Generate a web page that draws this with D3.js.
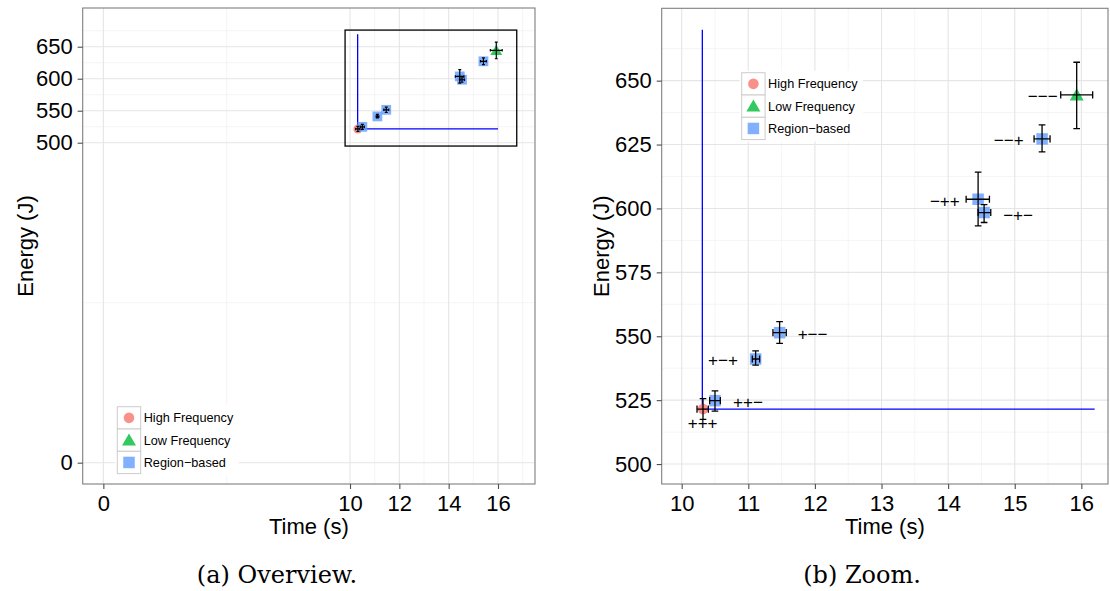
<!DOCTYPE html>
<html>
<head>
<meta charset="utf-8">
<script src="https://cdn.jsdelivr.net/npm/d3@7"></script>
<style>
  body { margin: 0; background: #fff; }
  svg { display: block; }
  .tick text { font-family: 'Liberation Sans', Arial, sans-serif; fill: #000; }
</style>
</head>
<body>
<script>
// configuration labels and measured means / error ranges
const configs = ['+++', '++−', '+−+', '+−−', '−++', '−+−', '−−+', '−−−'];
const method = ['High Frequency', 'Region−based', 'Region−based', 'Region−based',
  'Region−based', 'Region−based', 'Region−based', 'Low Frequency'];
const timeMean = [10.32, 10.50, 11.11, 11.47, 14.45, 14.54, 15.41, 15.93];
const timeLo = [10.23, 10.42, 11.06, 11.37, 14.27, 14.45, 15.29, 15.69];
const timeHi = [10.40, 10.58, 11.17, 11.57, 14.62, 14.64, 15.53, 16.17];
const energyMean = [521.5, 524.8, 541.1, 551.4, 603.6, 598.4, 627.2, 644.4];
const energyLo = [517.5, 520.7, 538.7, 547.2, 593.2, 594.5, 622.1, 631.2];
const energyHi = [525.6, 528.6, 544.3, 555.7, 614.2, 601.5, 632.7, 657.2];
// where the config labels sit (data units, zoom panel only)
const labelTime = [10.315, 10.995, 10.62, 11.965, 13.95, 15.05, 14.91, 15.42];
const labelEnergy = [516.0, 524.3, 540.7, 550.9, 602.9, 597.5, 626.8, 643.8];

const legendNames = ['High Frequency', 'Low Frequency', 'Region−based'];
const legendColors = ['#F8766D', '#00BA38', '#619CFF'];

// blue reference lines (time, energy)
const refLineOverview = [[10.31, 669.5], [10.31, 521.5], [16.0, 521.5]];
const refLineZoom = [[10.31, 669.9], [10.31, 521.5], [16.2, 521.5]];
// zoom window drawn on the overview
const zoomBox = { t0: 9.8, t1: 16.76, e0: 494.8, e1: 676 };

const xTicksOverview = [0, 10, 12, 14, 16];
const xMinorOverview = [5, 11, 13, 15, 17];
const yTicksOverview = [0, 500, 550, 600, 650];
const yMinorOverview = [250, 525, 575, 625, 675];
const xTicksZoom = [10, 11, 12, 13, 14, 15, 16];
const xMinorZoom = [10.5, 11.5, 12.5, 13.5, 14.5, 15.5];
const yTicksZoom = [500, 525, 550, 575, 600, 625, 650];
const yMinorZoom = [512.5, 537.5, 562.5, 587.5, 612.5, 637.5, 662.5];

const data = configs.map(function (c, i) {
  return {
    config: c, method: method[i],
    t: timeMean[i], tLo: timeLo[i], tHi: timeHi[i],
    e: energyMean[i], eLo: energyLo[i], eHi: energyHi[i],
    lt: labelTime[i], le: labelEnergy[i]
  };
});

let color = d3.scaleOrdinal().domain(legendNames).range(legendColors);

const font = "'Liberation Sans', Arial, sans-serif";

let svg = d3.select('body')
  .append('svg')
  .attr('width', 1110)
  .attr('height', 591);

function symbolPath(m, scale) {
  if (m === 'High Frequency') {
    return d3.symbol().type(d3.symbolCircle).size(Math.PI * Math.pow(5.3 * scale, 2))();
  } else if (m === 'Low Frequency') {
    let w = 14 * scale;
    return d3.symbol().type(d3.symbolTriangle).size(Math.sqrt(3) / 4 * w * w)();
  }
  let s = 11.5 * scale;
  return d3.symbol().type(d3.symbolSquare).size(s * s)();
}

function drawPanel(p) {
  let x = d3.scaleLinear().domain(p.xDomain).range([p.left, p.right]);
  let y = d3.scaleLinear().domain(p.yDomain).range([p.bottom, p.top]);
  let g = svg.append('g');

  // panel
  g.append('rect')
    .attr('x', p.left).attr('y', p.top)
    .attr('width', p.right - p.left).attr('height', p.bottom - p.top)
    .attr('fill', '#fff');

  // minor grid
  g.selectAll('.vminor').data(p.xMinor).enter().append('line')
    .attr('x1', function (d) { return x(d); }).attr('x2', function (d) { return x(d); })
    .attr('y1', p.top).attr('y2', p.bottom)
    .attr('stroke', '#f2f2f2').attr('stroke-width', 0.8);
  g.selectAll('.hminor').data(p.yMinor).enter().append('line')
    .attr('y1', function (d) { return y(d); }).attr('y2', function (d) { return y(d); })
    .attr('x1', p.left).attr('x2', p.right)
    .attr('stroke', '#f2f2f2').attr('stroke-width', 0.8);
  // major grid
  g.selectAll('.vmajor').data(p.xTicks).enter().append('line')
    .attr('x1', function (d) { return x(d); }).attr('x2', function (d) { return x(d); })
    .attr('y1', p.top).attr('y2', p.bottom)
    .attr('stroke', '#e5e5e5').attr('stroke-width', 1.1);
  g.selectAll('.hmajor').data(p.yTicks).enter().append('line')
    .attr('y1', function (d) { return y(d); }).attr('y2', function (d) { return y(d); })
    .attr('x1', p.left).attr('x2', p.right)
    .attr('stroke', '#e5e5e5').attr('stroke-width', 1.1);

  // reference lines
  g.append('path')
    .datum(p.refLine)
    .attr('d', d3.line().x(function (d) { return x(d[0]); }).y(function (d) { return y(d[1]); }))
    .attr('fill', 'none')
    .attr('stroke', '#0000ff')
    .attr('stroke-width', 1.3);

  if (p.box) {
    g.append('rect')
      .attr('x', x(p.box.t0)).attr('y', y(p.box.e1))
      .attr('width', x(p.box.t1) - x(p.box.t0))
      .attr('height', y(p.box.e0) - y(p.box.e1))
      .attr('fill', 'none').attr('stroke', '#000').attr('stroke-width', 1.3);
  }

  // points
  g.selectAll('.pt').data(data).enter().append('path')
    .attr('d', function (d) { return symbolPath(d.method, p.symScale); })
    .attr('transform', function (d) {
      let dy = d.method === 'Low Frequency' ? 1.5 * p.symScale : 0;
      return 'translate(' + x(d.t) + ',' + (y(d.e) + dy) + ')';
    })
    .attr('fill', function (d) { return color(d.method); })
    .attr('fill-opacity', 0.8);

  // error bars
  let eb = g.selectAll('.eb').data(data).enter().append('g');
  let capW = p.capT; // time units
  let capH = p.capE; // energy units
  eb.append('path')
    .attr('d', function (d) {
      let cx = x(d.t), cy = y(d.e);
      let hw = (x(d.t + capW) - x(d.t)) / 2;
      let hh = (y(d.e) - y(d.e + capH)) / 2;
      return 'M' + cx + ',' + y(d.eLo) + 'V' + y(d.eHi) +
        'M' + (cx - hw) + ',' + y(d.eLo) + 'H' + (cx + hw) +
        'M' + (cx - hw) + ',' + y(d.eHi) + 'H' + (cx + hw) +
        'M' + x(d.tLo) + ',' + cy + 'H' + x(d.tHi) +
        'M' + x(d.tLo) + ',' + (cy - hh) + 'V' + (cy + hh) +
        'M' + x(d.tHi) + ',' + (cy - hh) + 'V' + (cy + hh);
    })
    .attr('fill', 'none')
    .attr('stroke', '#000')
    .attr('stroke-width', p.ebWidth);

  if (p.labels) {
    g.selectAll('.lbl').data(data).enter().append('text')
      .attr('x', function (d) { return x(d.lt); })
      .attr('y', function (d) { return y(d.le); })
      .attr('dy', '0.35em')
      .attr('text-anchor', 'middle')
      .style('font-family', font)
      .style('font-size', '17px')
      .text(function (d) { return d.config; });
  }

  // border
  g.append('rect')
    .attr('x', p.left).attr('y', p.top)
    .attr('width', p.right - p.left).attr('height', p.bottom - p.top)
    .attr('fill', 'none').attr('stroke', '#7f7f7f').attr('stroke-width', 1.1);

  // axes
  let xAxis = d3.axisBottom(x).tickValues(p.xTicks).tickFormat(d3.format('d'))
    .tickSize(5).tickPadding(6);
  let yAxis = d3.axisLeft(y).tickValues(p.yTicks).tickFormat(d3.format('d'))
    .tickSize(5).tickPadding(5);
  let gx = g.append('g').attr('transform', 'translate(0,' + p.bottom + ')').call(xAxis);
  let gy = g.append('g').attr('transform', 'translate(' + p.left + ',0)').call(yAxis);
  [gx, gy].forEach(function (a) {
    a.select('.domain').remove();
    a.selectAll('.tick line').attr('stroke', '#4d4d4d').attr('stroke-width', 1.1);
    a.selectAll('.tick text').style('font-size', '22px');
  });

  g.append('text')
    .attr('x', (p.left + p.right) / 2)
    .attr('y', p.xTitleY)
    .attr('text-anchor', 'middle')
    .style('font-family', font).style('font-size', '22px')
    .text('Time (s)');
  g.append('text')
    .attr('transform', 'translate(' + p.yTitleX + ',' + (p.top + p.bottom) / 2 + ') rotate(-90)')
    .attr('text-anchor', 'middle')
    .attr('dy', '0.35em')
    .style('font-family', font).style('font-size', '22px')
    .text('Energy (J)');

  // legend
  let lg = g.append('g').attr('transform', 'translate(' + p.legendX + ',' + p.legendY + ')');
  let keyW = 23.4, keyH = 22.3;
  lg.append('rect')
    .attr('x', -2).attr('y', -2)
    .attr('width', keyW + 100).attr('height', keyH * 3 + 4)
    .attr('fill', '#fff');
  let item = lg.selectAll('.item').data(legendNames).enter().append('g')
    .attr('transform', function (d, i) { return 'translate(0,' + i * keyH + ')'; });
  item.append('rect')
    .attr('width', keyW).attr('height', keyH)
    .attr('fill', '#fff').attr('stroke', '#cccccc').attr('stroke-width', 1);
  item.append('path')
    .attr('d', function (d) { return symbolPath(d, 1.0); })
    .attr('transform', function (d) {
      let dy = d === 'Low Frequency' ? 1.4 : 0;
      return 'translate(' + keyW / 2 + ',' + (keyH / 2 + dy) + ')';
    })
    .attr('fill', function (d) { return color(d); })
    .attr('fill-opacity', 0.8);
  item.append('text')
    .attr('x', keyW + 3)
    .attr('y', keyH / 2)
    .attr('dy', '0.35em')
    .style('font-family', font).style('font-size', '12.7px')
    .text(function (d) { return d; });

  svg.append('text')
    .attr('x', p.captionX)
    .attr('y', 583)
    .attr('text-anchor', 'middle')
    .style('font-family', "'DejaVu Serif', serif")
    .style('font-size', '24px')
    .text(p.caption);
}

drawPanel({
  left: 82.7, right: 535, top: 8, bottom: 484,
  xDomain: [-0.837, 17.5], yDomain: [-33.3, 710.5],
  xTicks: xTicksOverview, xMinor: xMinorOverview,
  yTicks: yTicksOverview, yMinor: yMinorOverview,
  refLine: refLineOverview, box: zoomBox,
  symScale: 0.85, capT: 0.12, capE: 4, ebWidth: 1.2,
  labels: false,
  xTitleY: 534, yTitleX: 25,
  legendX: 117.3, legendY: 406.7,
  caption: '(a) Overview.', captionX: 277
});

drawPanel({
  left: 661.7, right: 1108, top: 8.3, bottom: 484,
  xDomain: [9.7, 16.4], yDomain: [492.2, 678.3],
  xTicks: xTicksZoom, xMinor: xMinorZoom,
  yTicks: yTicksZoom, yMinor: yMinorZoom,
  refLine: refLineZoom, box: null,
  symScale: 1, capT: 0.1, capE: 2.8, ebWidth: 1.3,
  labels: true,
  xTitleY: 534, yTitleX: 601,
  legendX: 741.7, legendY: 72.7,
  caption: '(b) Zoom.', captionX: 862
});
</script>
</body>
</html>
